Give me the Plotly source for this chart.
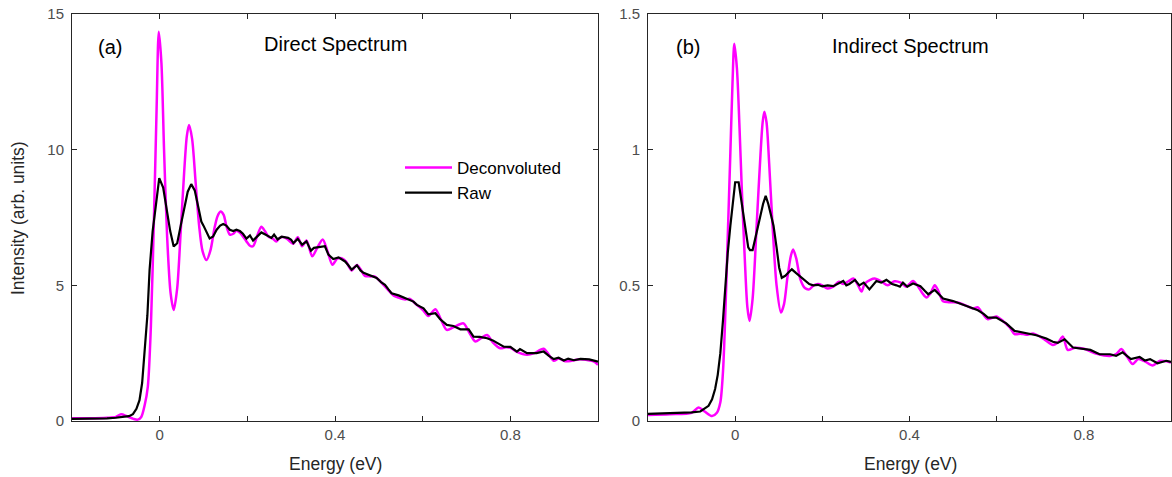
import plotly.graph_objects as go

# ---------------- data ----------------
# Panel (a): Direct spectrum
a_raw_x = [-0.20, -0.18, -0.16, -0.14, -0.12, -0.10, -0.09, -0.08, -0.07, -0.061, -0.053, -0.046, -0.040,
           -0.034, -0.028, -0.023, -0.016, -0.009, -0.001, 0.008, 0.016, 0.024, 0.032, 0.040, 0.048, 0.056,
           0.064, 0.072, 0.080, 0.088, 0.095, 0.100, 0.107, 0.114, 0.122, 0.130, 0.138, 0.145, 0.152, 0.160,
           0.168, 0.175, 0.183, 0.190, 0.198, 0.206, 0.213, 0.222, 0.232, 0.240, 0.248, 0.255, 0.261, 0.269,
           0.278, 0.285, 0.293, 0.300, 0.305, 0.315, 0.325, 0.335, 0.345, 0.352, 0.358, 0.368, 0.377, 0.385,
           0.396, 0.408, 0.415, 0.423, 0.430, 0.438, 0.450, 0.458, 0.465, 0.480, 0.495, 0.505, 0.514, 0.522,
           0.529, 0.545, 0.556, 0.564, 0.579, 0.587, 0.602, 0.613, 0.620, 0.629, 0.640, 0.655, 0.670, 0.686,
           0.705, 0.716, 0.730, 0.747, 0.760, 0.770, 0.785, 0.800, 0.815, 0.822, 0.838, 0.860, 0.876, 0.888,
           0.899, 0.910, 0.922, 0.932, 0.945, 0.960, 0.980, 1.000]
a_raw_y = [0.08, 0.08, 0.09, 0.09, 0.10, 0.12, 0.15, 0.16, 0.18, 0.25, 0.45, 0.77, 1.4,
           2.5, 3.9, 5.57, 7.0, 7.9, 8.95, 8.6, 7.8, 7.0, 6.43, 6.55, 7.2, 7.9,
           8.45, 8.73, 8.5, 7.9, 7.35, 7.2, 6.95, 6.73, 6.8, 7.05, 7.2, 7.26, 7.2, 7.05,
           7.0, 7.05, 7.0, 6.9, 6.72, 6.84, 6.65, 6.8, 6.95, 6.88, 6.81, 6.75, 6.87, 6.69,
           6.79, 6.76, 6.75, 6.68, 6.56, 6.71, 6.50, 6.62, 6.28, 6.38, 6.40, 6.43, 6.44, 6.13,
           5.97, 6.03, 5.95, 5.88, 5.75, 5.58, 5.74, 5.55, 5.46, 5.36, 5.27, 5.12, 5.02, 4.85,
           4.71, 4.63, 4.56, 4.51, 4.40, 4.28, 4.15, 3.93, 3.95, 3.97, 3.75, 3.54, 3.50, 3.38,
           3.38, 3.11, 3.10, 3.05, 2.97, 2.89, 2.74, 2.73, 2.56, 2.65, 2.50, 2.50, 2.56, 2.40,
           2.28, 2.33, 2.23, 2.30, 2.24, 2.29, 2.27, 2.19]

a_dec_x = [-0.20, -0.16, -0.12, -0.10, -0.088, -0.075, -0.06, -0.05, -0.042, -0.034, -0.027, -0.020, -0.013,
           -0.007, -0.002, 0.004, 0.010, 0.017, 0.025, 0.032, 0.040, 0.048, 0.056, 0.062, 0.067, 0.074,
           0.082, 0.090, 0.098, 0.107, 0.116, 0.125, 0.132, 0.139, 0.146, 0.152, 0.160, 0.168, 0.175,
           0.182, 0.190, 0.198, 0.206, 0.213, 0.222, 0.232, 0.240, 0.248, 0.258, 0.266, 0.272, 0.280,
           0.290, 0.300, 0.305, 0.315, 0.325, 0.335, 0.348, 0.360, 0.372, 0.383, 0.394, 0.405, 0.415,
           0.425, 0.438, 0.450, 0.458, 0.468, 0.480, 0.490, 0.500, 0.520, 0.534, 0.545, 0.560, 0.571,
           0.585, 0.600, 0.613, 0.629, 0.640, 0.655, 0.670, 0.693, 0.705, 0.720, 0.733, 0.747, 0.760,
           0.777, 0.790, 0.800, 0.815, 0.838, 0.855, 0.876, 0.899, 0.910, 0.925, 0.940, 0.960, 0.975,
           0.990, 1.000]
a_dec_y = [0.10, 0.10, 0.12, 0.15, 0.25, 0.18, 0.08, 0.05, 0.15, 0.6, 1.27, 3.5, 7.5,
           11.5, 14.35, 13.2, 10.0, 6.8, 4.7, 4.09, 4.9, 7.0, 9.2, 10.5, 10.91, 10.4,
           8.8, 7.2, 6.25, 5.93, 6.3, 7.1, 7.55, 7.72, 7.6, 7.2, 6.87, 6.9, 7.02,
           6.95, 6.8, 6.62, 6.46, 6.44, 6.8, 7.16, 7.0, 6.8, 6.72, 6.62, 6.72, 6.78,
           6.72, 6.58, 6.53, 6.77, 6.44, 6.65, 6.07, 6.4, 6.69, 6.25, 5.76, 5.98, 6.0,
           5.88, 5.55, 5.75, 5.6, 5.35, 5.33, 5.33, 5.2, 4.85, 4.62, 4.55, 4.48, 4.50,
           4.3, 4.1, 3.87, 4.12, 3.8, 3.36, 3.45, 3.60, 3.3, 2.93, 3.05, 3.17, 2.9,
           2.68, 2.72, 2.70, 2.55, 2.44, 2.5, 2.66, 2.22, 2.3, 2.2, 2.22, 2.28, 2.25,
           2.20, 2.07]

# Panel (b): Indirect spectrum
b_raw_x = [-0.20, -0.15, -0.10, -0.08, -0.07, -0.061, -0.053, -0.046, -0.040, -0.034, -0.028, -0.023, -0.017,
           -0.011, -0.005, 0.000, 0.008, 0.015, 0.023, 0.030, 0.034, 0.040, 0.050, 0.057, 0.064, 0.070,
           0.076, 0.082, 0.088, 0.095, 0.101, 0.107, 0.115, 0.124, 0.130, 0.140, 0.149, 0.160, 0.170,
           0.179, 0.190, 0.200, 0.212, 0.225, 0.235, 0.248, 0.255, 0.262, 0.275, 0.285, 0.295, 0.308,
           0.324, 0.335, 0.347, 0.360, 0.370, 0.378, 0.385, 0.395, 0.408, 0.425, 0.435, 0.443, 0.458,
           0.468, 0.477, 0.500, 0.519, 0.538, 0.557, 0.570, 0.580, 0.599, 0.610, 0.622, 0.641, 0.668,
           0.691, 0.714, 0.729, 0.740, 0.756, 0.775, 0.798, 0.815, 0.836, 0.860, 0.874, 0.889, 0.908,
           0.928, 0.940, 0.952, 0.969, 0.989, 1.000]
b_raw_y = [0.026, 0.028, 0.032, 0.035, 0.045, 0.056, 0.08, 0.118, 0.17, 0.25, 0.37, 0.50, 0.62,
           0.72, 0.80, 0.88, 0.88, 0.80, 0.72, 0.64, 0.63, 0.63, 0.70, 0.755, 0.80, 0.83,
           0.80, 0.76, 0.72, 0.64, 0.565, 0.528, 0.535, 0.55, 0.559, 0.545, 0.534, 0.52, 0.505,
           0.500, 0.502, 0.496, 0.500, 0.497, 0.505, 0.516, 0.500, 0.505, 0.520, 0.500, 0.510, 0.485,
           0.516, 0.510, 0.520, 0.505, 0.500, 0.495, 0.510, 0.495, 0.507, 0.497, 0.480, 0.467, 0.483,
           0.465, 0.451, 0.442, 0.430, 0.418, 0.408, 0.395, 0.381, 0.381, 0.370, 0.360, 0.332, 0.322,
           0.316, 0.304, 0.292, 0.288, 0.301, 0.271, 0.265, 0.262, 0.246, 0.246, 0.240, 0.253, 0.228,
           0.236, 0.223, 0.228, 0.213, 0.222, 0.218]

b_dec_x = [-0.20, -0.15, -0.10, -0.084, -0.070, -0.053, -0.042, -0.034, -0.028, -0.023, -0.017, -0.011, -0.006,
           -0.002, 0.004, 0.010, 0.015, 0.022, 0.028, 0.033, 0.040, 0.050, 0.058, 0.063, 0.067, 0.072,
           0.078, 0.085, 0.095, 0.105, 0.112, 0.120, 0.128, 0.133, 0.140, 0.150, 0.160, 0.170, 0.180,
           0.190, 0.200, 0.212, 0.225, 0.238, 0.248, 0.260, 0.271, 0.282, 0.290, 0.297, 0.310, 0.320,
           0.335, 0.350, 0.365, 0.380, 0.392, 0.400, 0.408, 0.420, 0.430, 0.439, 0.448, 0.458, 0.466,
           0.477, 0.490, 0.510, 0.530, 0.545, 0.557, 0.568, 0.580, 0.599, 0.615, 0.630, 0.641, 0.655,
           0.668, 0.685, 0.710, 0.729, 0.741, 0.752, 0.763, 0.780, 0.800, 0.830, 0.860, 0.875, 0.886,
           0.900, 0.912, 0.925, 0.940, 0.958, 0.975, 0.990, 1.000]
b_dec_y = [0.022, 0.025, 0.03, 0.05, 0.035, 0.018, 0.03, 0.069, 0.18, 0.375, 0.68, 0.99, 1.25,
           1.39, 1.30, 1.08, 0.865, 0.6, 0.42, 0.369, 0.45, 0.743, 0.98, 1.10, 1.14, 1.10,
           0.95, 0.743, 0.50, 0.40, 0.43, 0.53, 0.61, 0.632, 0.60, 0.52, 0.49, 0.485, 0.50,
           0.505, 0.500, 0.488, 0.495, 0.513, 0.505, 0.515, 0.525, 0.500, 0.477, 0.505, 0.520, 0.525,
           0.515, 0.500, 0.515, 0.510, 0.495, 0.505, 0.516, 0.495, 0.470, 0.455, 0.47, 0.500, 0.480,
           0.441, 0.438, 0.437, 0.425, 0.415, 0.419, 0.395, 0.375, 0.385, 0.368, 0.345, 0.320, 0.322,
           0.318, 0.322, 0.30, 0.280, 0.290, 0.311, 0.262, 0.27, 0.266, 0.248, 0.24, 0.248, 0.265,
           0.235, 0.210, 0.228, 0.22, 0.205, 0.222, 0.220, 0.215]

x_tickvals = [-0.2, 0.0, 0.2, 0.4, 0.6, 0.8, 1.0]
x_ticktext = ["", "0", "", "0.4", "", "0.8", ""]
a_y_tickvals = [0, 5, 10, 15]
a_y_ticktext = ["0", "5", "10", "15"]
b_y_tickvals = [0, 0.5, 1, 1.5]
b_y_ticktext = ["0", "0.5", "1", "1.5"]

# ---------------- layout geometry (window pixels) ----------------
W, H = 1172, 477
TOP, BOT = 14, 421          # plot-area top / bottom
PH = BOT - TOP


def fx(px):
    return px / W


def fy(py):
    return (BOT - py) / PH


FONT = "Liberation Sans, Arial, Helvetica, sans-serif"
AX = "#262626"
MAG = "#FF00FF"

fig = go.Figure()

fig.add_trace(go.Scatter(x=a_dec_x, y=a_dec_y, mode="lines", name="Deconvoluted",
                         line=dict(color=MAG, width=2.5, shape="spline", smoothing=0.8),
                         xaxis="x", yaxis="y", showlegend=True))
fig.add_trace(go.Scatter(x=a_raw_x, y=a_raw_y, mode="lines", name="Raw",
                         line=dict(color="#000000", width=2.2),
                         xaxis="x", yaxis="y", showlegend=True))
fig.add_trace(go.Scatter(x=b_dec_x, y=b_dec_y, mode="lines", name="Deconvoluted",
                         line=dict(color=MAG, width=2.5, shape="spline", smoothing=0.8),
                         xaxis="x2", yaxis="y2", showlegend=False))
fig.add_trace(go.Scatter(x=b_raw_x, y=b_raw_y, mode="lines", name="Raw",
                         line=dict(color="#000000", width=2.2),
                         xaxis="x2", yaxis="y2", showlegend=False))

common_axis = dict(showgrid=False, zeroline=False, showline=True, linecolor=AX, linewidth=1,
                   mirror="ticks", ticks="inside", ticklen=5, tickwidth=1, tickcolor=AX,
                   tickfont=dict(family=FONT, size=15, color="#4d4d4d"), automargin=False,
                   ticklabeloverflow="allow")

fig.update_layout(
    width=W, height=H,
    margin=dict(l=0, r=0, t=TOP, b=H - BOT, pad=0),
    paper_bgcolor="white", plot_bgcolor="white",
    font=dict(family=FONT, color=AX),
    xaxis=dict(domain=[fx(72), fx(598)], range=[-0.2, 1.0], tickvals=x_tickvals, ticktext=x_ticktext,
               anchor="y", **common_axis),
    yaxis=dict(domain=[0, 1], range=[0, 15], tickvals=a_y_tickvals, ticktext=a_y_ticktext,
               anchor="x", ticklabelstandoff=4, **common_axis),
    xaxis2=dict(domain=[fx(648), fx(1171)], range=[-0.2, 1.0], tickvals=x_tickvals,
                ticktext=x_ticktext, anchor="y2", **common_axis),
    yaxis2=dict(domain=[0, 1], range=[0, 1.5], tickvals=b_y_tickvals, ticktext=b_y_ticktext,
                anchor="x2", ticklabelstandoff=4, **common_axis),
    legend=dict(x=fx(400), y=fy(150), xref="paper", yref="paper",
                xanchor="left", yanchor="top", bgcolor="rgba(0,0,0,0)", borderwidth=0,
                font=dict(family=FONT, size=17, color="#000000"), itemwidth=47,
                tracegroupgap=0),
    showlegend=True,
)

annotations = []
for text, x, y in [("(a)", 110, 47), ("Direct Spectrum", 335, 44),
                   ("(b)", 688, 47), ("Indirect Spectrum", 910, 46)]:
    annotations.append(dict(text=text, x=fx(x), y=fy(y), xref="paper", yref="paper", showarrow=False,
                            xanchor="center", yanchor="middle",
                            font=dict(family=FONT, size=20, color="#000000")))
for x in (335, 910):
    annotations.append(dict(text="Energy (eV)", x=fx(x), y=fy(464), xref="paper", yref="paper",
                            showarrow=False, xanchor="center", yanchor="middle",
                            font=dict(family=FONT, size=17.5, color=AX)))
annotations.append(dict(text="Intensity (arb. units)", x=fx(18), y=fy(218),
                        xref="paper", yref="paper", showarrow=False, textangle=-90,
                        xanchor="center", yanchor="middle",
                        font=dict(family=FONT, size=17.5, color=AX)))
fig.update_layout(annotations=annotations)

# remove the page's default 8 px body margin so the figure fills the window exactly
fig.write_html("out.html",
               config={"displayModeBar": False},
               post_script="document.body.style.margin='0';document.body.style.overflow='hidden';")
